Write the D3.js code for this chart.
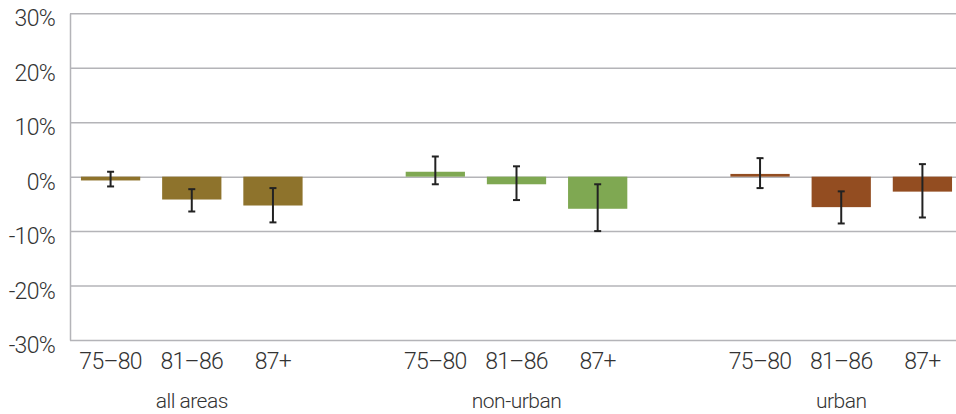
<!DOCTYPE html>
<meta charset="utf-8">
<style>
body { margin: 0; background: #fff; overflow: hidden; }
svg { display: block; }
text { font-family: Roboto, "Liberation Sans", sans-serif; font-weight: 300; fill: #333; letter-spacing: -0.7px; }
.grid line { stroke: #b4b4b8; stroke-width: 1.5; }
.grid path { stroke: #b4b4b8; stroke-width: 1.5; }
.err { stroke: #222; stroke-width: 2; }
</style>
<body>
<script src="https://cdn.jsdelivr.net/npm/d3@7"></script>
<script>

// groups and age bands
var groups = ["all areas", "non-urban", "urban"];
var ages = ["75\u201380", "81\u201386", "87+"];
var colors = ["#8e732c", "#7fa852", "#934d21"];

// change in % per age band
var allAreas = [-0.7, -4.2, -5.3];
var nonUrban = [0.9, -1.4, -5.9];
var urban = [0.5, -5.6, -2.75];

// error bar ends
var allAreasLow = [-1.8, -6.4, -8.4], allAreasHigh = [0.9, -2.3, -2.1];
var nonUrbanLow = [-1.4, -4.3, -10.0], nonUrbanHigh = [3.7, 1.9, -1.4];
var urbanLow = [-2.1, -8.6, -7.5], urbanHigh = [3.4, -2.7, 2.3];

var yTicks = [-30, -20, -10, 0, 10, 20, 30];

var series = [allAreas, nonUrban, urban];
var lows = [allAreasLow, nonUrbanLow, urbanLow];
var highs = [allAreasHigh, nonUrbanHigh, urbanHigh];

// flatten to one row per bar, with an empty slot between groups
var slots = [], data = [];
groups.forEach(function(g, gi) {
    if (gi > 0) slots.push("gap" + gi);
    ages.forEach(function(a, ai) {
        var key = gi + "-" + ai;
        slots.push(key);
        data.push({key: key, group: gi, age: a, value: series[gi][ai],
                   lo: lows[gi][ai], hi: highs[gi][ai]});
    });
});

var W = 956, H = 414;
var m = {left: 70, top: 13.3, bottom: 340, right: 963};

// 11 slots, the plot runs a little past the right edge
var x = d3.scaleBand()
    .domain(slots)
    .range([m.left, m.right])
    .paddingInner(0.27)
    .paddingOuter(0.135);
var y = d3.scaleLinear()
    .domain([-30, 30])
    .range([m.bottom, m.top]);

var svg = d3.select("body").append("svg")
    .attr("width", W)
    .attr("height", H);

// grid + y axis
svg.append("g")
    .attr("class", "grid")
    .attr("transform", "translate(" + m.left + ",0)")
    .call(d3.axisLeft(y)
        .tickValues(yTicks)
        .tickSize(-(m.right - m.left))
        .tickSizeOuter(0)
        .tickPadding(15)
        .tickFormat(function(d) { return d + "%"; }))
    .call(function(g) {
        g.attr("font-family", null).attr("font-size", null);
        g.selectAll("text")
            .attr("dy", "0.55em")
            .attr("fill", null)
            .style("font-size", "23px");
    });

// bars
svg.selectAll(".bar")
    .data(data)
    .enter().append("rect")
    .attr("class", "bar")
    .attr("x", function(d) { return x(d.key); })
    .attr("width", x.bandwidth())
    .attr("y", function(d) { return y(Math.max(0, d.value)); })
    .attr("height", function(d) { return Math.abs(y(d.value) - y(0)); })
    .attr("fill", function(d) { return colors[d.group]; });

// error bars
var cap = 3.5;
var eb = svg.selectAll(".eb")
    .data(data)
    .enter().append("g")
    .attr("class", "err");
eb.append("line")
    .attr("x1", function(d) { return x(d.key) + x.bandwidth() / 2; })
    .attr("x2", function(d) { return x(d.key) + x.bandwidth() / 2; })
    .attr("y1", function(d) { return y(d.hi); })
    .attr("y2", function(d) { return y(d.lo); });
eb.append("line")
    .attr("x1", function(d) { return x(d.key) + x.bandwidth() / 2 - cap; })
    .attr("x2", function(d) { return x(d.key) + x.bandwidth() / 2 + cap; })
    .attr("y1", function(d) { return y(d.hi); })
    .attr("y2", function(d) { return y(d.hi); });
eb.append("line")
    .attr("x1", function(d) { return x(d.key) + x.bandwidth() / 2 - cap; })
    .attr("x2", function(d) { return x(d.key) + x.bandwidth() / 2 + cap; })
    .attr("y1", function(d) { return y(d.lo); })
    .attr("y2", function(d) { return y(d.lo); });

// age labels
svg.selectAll(".age")
    .data(data)
    .enter().append("text")
    .attr("x", function(d) { return x(d.key) + x.bandwidth() / 2; })
    .attr("y", 369)
    .attr("text-anchor", "middle")
    .style("font-size", "23px")
    .text(function(d) { return d.age; });

// group labels, under the middle bar
svg.selectAll(".grp")
    .data(groups)
    .enter().append("text")
    .attr("x", function(d, i) { return x(i + "-1") + x.bandwidth() / 2; })
    .attr("y", 408)
    .attr("text-anchor", "middle")
    .style("font-size", "21px")
    .style("letter-spacing", "-0.5px")
    .text(function(d) { return d; });

</script>
</body>
